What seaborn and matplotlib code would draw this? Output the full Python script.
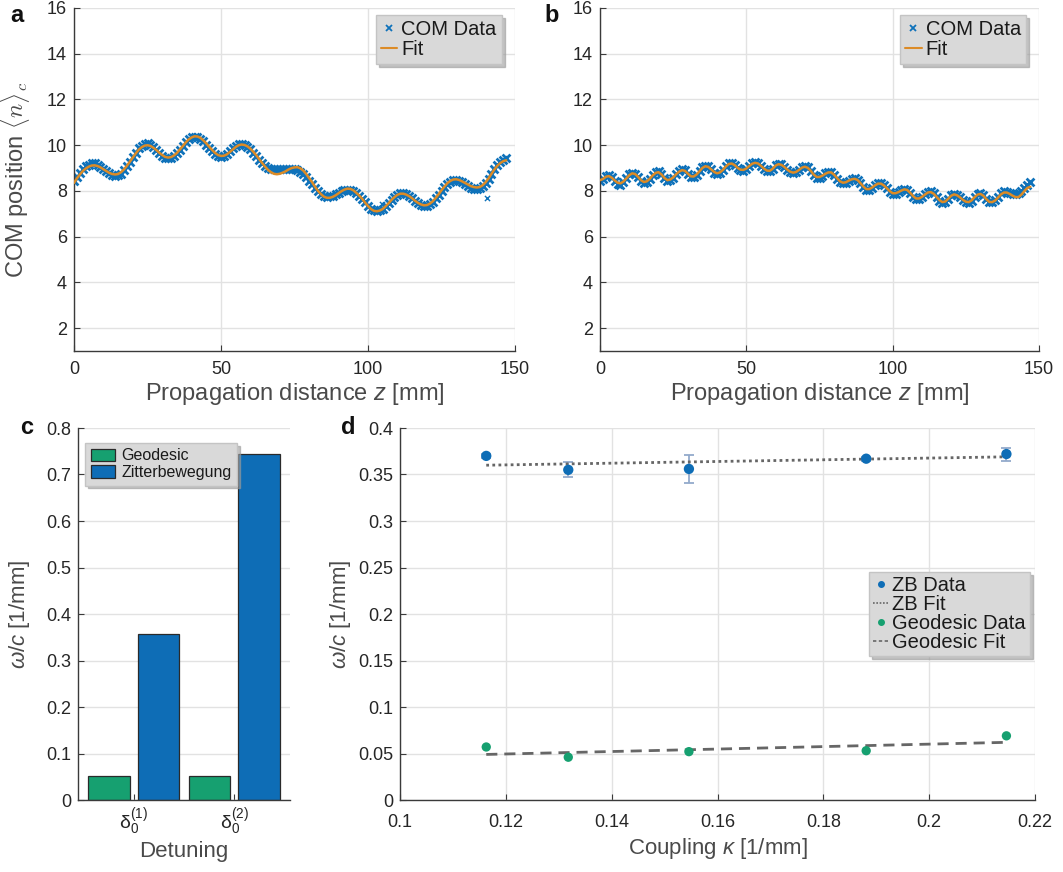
import matplotlib
matplotlib.use("Agg")
import matplotlib.pyplot as plt
from matplotlib.lines import Line2D
import numpy as np
import pandas as pd
import seaborn as sns

# ---------------- data ----------------
z_mm = list(range(148))

com_a_data = [
    8.45, 8.62, 8.80, 8.95, 9.07, 9.15, 9.20, 9.20, 9.15, 9.06,
    8.96, 8.86, 8.77, 8.69, 8.66, 8.68, 8.76, 8.90, 9.08, 9.28,
    9.48, 9.68, 9.86, 9.98, 10.06, 10.08, 10.03, 9.93, 9.80, 9.66,
    9.53, 9.44, 9.42, 9.45, 9.53, 9.65, 9.80, 9.96, 10.12, 10.25,
    10.34, 10.38, 10.36, 10.29, 10.17, 10.03, 9.88, 9.74, 9.61, 9.53,
    9.50, 9.53, 9.61, 9.73, 9.86, 9.98, 10.06, 10.07, 10.03, 9.94,
    9.82, 9.68, 9.52, 9.37, 9.22, 9.10, 9.02, 8.97, 8.95, 8.94,
    8.94, 8.94, 8.95, 8.96, 8.96, 8.94, 8.90, 8.83, 8.73, 8.60,
    8.45, 8.29, 8.13, 7.98, 7.86, 7.78, 7.75, 7.76, 7.79, 7.85,
    7.92, 7.99, 8.04, 8.06, 8.04, 7.98, 7.89, 7.78, 7.65, 7.50,
    7.36, 7.23, 7.15, 7.12, 7.15, 7.22, 7.33, 7.46, 7.60, 7.73,
    7.84, 7.90, 7.91, 7.87, 7.79, 7.68, 7.56, 7.46, 7.38, 7.34,
    7.35, 7.41, 7.52, 7.67, 7.84, 8.01, 8.17, 8.31, 8.41, 8.46,
    8.47, 8.44, 8.38, 8.31, 8.23, 8.15, 8.10, 8.09, 8.12, 8.20,
    8.34, 8.52, 8.73, 8.94, 9.12, 9.26, 9.36, 9.42,
]
com_a_fit = [
    8.35, 8.55, 8.72, 8.87, 8.98, 9.06, 9.11, 9.12, 9.09, 9.03,
    8.95, 8.87, 8.79, 8.74, 8.72, 8.74, 8.82, 8.94, 9.10, 9.28,
    9.46, 9.64, 9.80, 9.91, 9.98, 10.00, 9.97, 9.89, 9.79, 9.67,
    9.57, 9.49, 9.46, 9.48, 9.55, 9.66, 9.81, 9.96, 10.12, 10.25,
    10.34, 10.39, 10.38, 10.32, 10.21, 10.08, 9.93, 9.79, 9.66, 9.57,
    9.53, 9.54, 9.60, 9.70, 9.81, 9.92, 10.00, 10.03, 10.01, 9.95,
    9.85, 9.71, 9.56, 9.39, 9.22, 9.06, 8.92, 8.82, 8.75, 8.73,
    8.75, 8.80, 8.86, 8.94, 9.00, 9.03, 9.04, 8.99, 8.89, 8.74,
    8.56, 8.38, 8.18, 8.00, 7.86, 7.75, 7.70, 7.70, 7.74, 7.81,
    7.90, 7.99, 8.06, 8.10, 8.09, 8.03, 7.92, 7.80, 7.66, 7.49,
    7.34, 7.21, 7.13, 7.11, 7.14, 7.21, 7.33, 7.46, 7.61, 7.73,
    7.83, 7.88, 7.88, 7.84, 7.77, 7.68, 7.57, 7.48, 7.41, 7.37,
    7.38, 7.44, 7.54, 7.69, 7.85, 8.03, 8.19, 8.34, 8.44, 8.50,
    8.51, 8.48, 8.42, 8.35, 8.28, 8.21, 8.17, 8.15, 8.17, 8.25,
    8.38, 8.55, 8.75, 8.94, 9.10, 9.22, 9.30, 9.34,
]
stray_a_z = [104.7, 140.4]
stray_a_n = [7.45, 7.71]

com_b_data = [
    8.45, 8.53, 8.65, 8.68, 8.60, 8.44, 8.31, 8.28, 8.38, 8.56,
    8.72, 8.80, 8.76, 8.62, 8.45, 8.35, 8.39, 8.53, 8.70, 8.82,
    8.85, 8.74, 8.56, 8.44, 8.47, 8.58, 8.74, 8.87, 8.94, 8.90,
    8.76, 8.61, 8.60, 8.71, 8.87, 9.04, 9.11, 9.07, 8.94, 8.80,
    8.74, 8.79, 8.92, 9.09, 9.21, 9.23, 9.14, 9.00, 8.90, 8.89,
    8.97, 9.10, 9.21, 9.26, 9.22, 9.10, 8.96, 8.86, 8.85, 8.96,
    9.12, 9.19, 9.16, 9.05, 8.91, 8.81, 8.77, 8.81, 8.92, 9.04,
    9.09, 9.03, 8.88, 8.70, 8.58, 8.58, 8.66, 8.77, 8.84, 8.83,
    8.71, 8.54, 8.39, 8.33, 8.36, 8.45, 8.54, 8.56, 8.49, 8.33,
    8.16, 8.04, 8.05, 8.15, 8.27, 8.35, 8.35, 8.25, 8.11, 7.96,
    7.86, 7.87, 7.95, 8.04, 8.10, 8.06, 7.92, 7.75, 7.63, 7.64,
    7.73, 7.85, 7.96, 7.98, 7.89, 7.73, 7.57, 7.47, 7.51, 7.65,
    7.81, 7.88, 7.83, 7.72, 7.59, 7.50, 7.48, 7.58, 7.74, 7.87,
    7.90, 7.81, 7.65, 7.51, 7.50, 7.60, 7.75, 7.90, 7.98, 7.97,
    7.92, 7.88, 7.86, 7.90, 8.00, 8.13, 8.28, 8.38,
]
com_b_fit = [
    8.47, 8.52, 8.62, 8.65, 8.58, 8.46, 8.36, 8.33, 8.41, 8.55,
    8.69, 8.77, 8.74, 8.62, 8.47, 8.39, 8.42, 8.53, 8.68, 8.79,
    8.82, 8.72, 8.57, 8.47, 8.50, 8.59, 8.73, 8.84, 8.91, 8.88,
    8.76, 8.64, 8.63, 8.72, 8.86, 9.01, 9.08, 9.05, 8.94, 8.83,
    8.77, 8.81, 8.92, 9.07, 9.18, 9.20, 9.13, 9.01, 8.93, 8.92,
    8.98, 9.09, 9.19, 9.23, 9.20, 9.10, 8.98, 8.89, 8.88, 8.97,
    9.11, 9.17, 9.14, 9.05, 8.93, 8.84, 8.80, 8.83, 8.92, 9.02,
    9.06, 9.01, 8.88, 8.72, 8.61, 8.61, 8.67, 8.75, 8.81, 8.81,
    8.71, 8.56, 8.42, 8.36, 8.38, 8.45, 8.51, 8.53, 8.48, 8.34,
    8.19, 8.08, 8.08, 8.15, 8.25, 8.32, 8.32, 8.24, 8.12, 7.99,
    7.90, 7.90, 7.95, 8.02, 8.07, 8.04, 7.92, 7.77, 7.67, 7.67,
    7.74, 7.84, 7.93, 7.95, 7.88, 7.74, 7.60, 7.51, 7.54, 7.66,
    7.79, 7.85, 7.81, 7.72, 7.61, 7.53, 7.51, 7.59, 7.73, 7.84,
    7.87, 7.79, 7.64, 7.52, 7.51, 7.58, 7.71, 7.85, 7.93, 7.93,
    7.87, 7.79, 7.73, 7.73, 7.84, 7.99, 8.13, 8.18,
]

detuning = [r"$\mathrm{\delta}_0^{(1)}$", r"$\mathrm{\delta}_0^{(2)}$"]
omega_geodesic = [0.051, 0.051]
omega_zb = [0.356, 0.745]

kappa = [0.1163, 0.1318, 0.1546, 0.1881, 0.2146]
zb_omega = [0.370, 0.355, 0.356, 0.367, 0.372]
zb_err = [0.002, 0.008, 0.015, 0.002, 0.007]
geo_omega = [0.057, 0.046, 0.052, 0.053, 0.069]
kappa_fit = [0.1163, 0.2146]
zb_fit = [0.360, 0.369]
geo_fit = [0.049, 0.062]

# ---------------- style ----------------
sns.set_theme(style="whitegrid")
plt.rcParams["font.family"] = ["Liberation Sans", "DejaVu Sans"]
plt.rcParams["mathtext.fontset"] = "custom"
plt.rcParams["mathtext.rm"] = "Liberation Sans"
plt.rcParams["mathtext.it"] = "Liberation Sans:italic"
plt.rcParams["mathtext.bf"] = "Liberation Sans:bold"

BLUE = "#0F72BA"
ORANGE = "#DC8B26"
GREEN = "#16A070"
BAR_BLUE = "#0E6DB6"
ERR = "#93AACB"
TXT = "#262626"
LBL = "#4a4a4a"
W, H = 1063, 872


def box(l, t, r, b):
    return [l / W, 1 - b / H, (r - l) / W, (b - t) / H]


def style_axes(ax, size=13):
    ax.set_facecolor("white")
    for s in ("top", "right"):
        ax.spines[s].set_visible(False)
    for s in ("left", "bottom"):
        ax.spines[s].set_color("#3a3a3a")
        ax.spines[s].set_linewidth(1.0)
    ax.grid(True, color="#e2e2e2", linewidth=1.0)
    ax.set_axisbelow(True)
    ax.tick_params(direction="in", length=4, width=0.8, color="#3a3a3a",
                   labelcolor=TXT, labelsize=size, bottom=True, left=True, pad=5)


def matlab_legend(ax, **kw):
    leg = ax.legend(frameon=True, fancybox=False, shadow={"color": "#9a9a9a", "alpha": 0.6},
                    facecolor="#d9d9d9", edgecolor="#c4c4c4", framealpha=1, **kw)
    for t in leg.get_texts():
        t.set_color("#1a1a1a")
    return leg


fig = plt.figure(figsize=(W / 100, H / 100), dpi=100)
fig.patch.set_facecolor("white")

# ---------------- panels a & b ----------------
ax_a = fig.add_axes(box(74, 8, 515, 351))
ax_b = fig.add_axes(box(600, 8, 1039, 351))

for ax, data, fit in ((ax_a, com_a_data, com_a_fit), (ax_b, com_b_data, com_b_fit)):
    style_axes(ax)
    sns.scatterplot(x=z_mm, y=data, marker="x", s=32, color=BLUE, linewidth=2.0,
                    ax=ax, label="COM Data", zorder=2)
    sns.lineplot(x=z_mm, y=fit, color=ORANGE, linewidth=1.8, ax=ax, label="Fit", zorder=3)
    ax.set_xlim(0, 150)
    ax.set_ylim(1, 16)
    ax.set_xticks([0, 50, 100, 150])
    ax.set_yticks(range(2, 17, 2))
    ax.tick_params(axis="x", pad=7)
    ax.set_xlabel("Propagation distance $z$ [mm]", fontsize=17, color=LBL, labelpad=2)
    handles = [Line2D([], [], marker="x", linestyle="none", color=BLUE, markersize=5, mew=1.3),
               Line2D([], [], color=ORANGE, linewidth=1.5)]
    ax.legend_.remove()
    matlab_legend(ax, handles=handles, labels=["COM Data", "Fit"], loc="upper right",
                  bbox_to_anchor=(0.97, 0.98), borderaxespad=0, fontsize=14.5,
                  handlelength=0.8, handletextpad=0.2, labelspacing=0.05, borderpad=0.25)

ax_a.scatter(stray_a_z, stray_a_n, marker="x", s=14, color=BLUE, linewidth=1.0, zorder=2)
ax_a.set_ylabel(r"COM position $\langle n \rangle_c$", fontsize=17, color=LBL,
                math_fontfamily="cm")
ax_a.yaxis.set_label_coords(-0.095, 0.5)

# ---------------- panel c ----------------
ax_c = fig.add_axes(box(78, 428, 290, 800))
style_axes(ax_c, size=13)
bars = pd.DataFrame({
    "Detuning": detuning * 2,
    "omega": omega_geodesic + omega_zb,
    "kind": ["Geodesic"] * 2 + ["Zitterbewegung"] * 2,
})
sns.barplot(data=bars, x="Detuning", y="omega", hue="kind", order=detuning,
            hue_order=["Geodesic", "Zitterbewegung"], palette=[GREEN, BAR_BLUE],
            width=0.99, gap=0.16, saturation=1, edgecolor="#2a2a2a", linewidth=0.9, ax=ax_c)
ax_c.set_ylim(0, 0.8)
ax_c.set_xlim(-0.55, 1.55)
ax_c.set_yticks(np.arange(0, 0.81, 0.1))
ax_c.set_yticklabels(["0", "0.1", "0.2", "0.3", "0.4", "0.5", "0.6", "0.7", "0.8"])
ax_c.tick_params(axis="x", labelsize=14)
ax_c.set_xlabel("Detuning", fontsize=16, color=LBL, labelpad=2)
ax_c.set_ylabel(r"$\omega/c$ [1/mm]", fontsize=16, color=LBL)
ax_c.yaxis.set_label_coords(-0.215, 0.5)
matlab_legend(ax_c, loc="upper left", bbox_to_anchor=(0.035, 0.96), borderaxespad=0,
              fontsize=11.5, handlelength=1.5, handleheight=0.8, handletextpad=0.4,
              labelspacing=0.1, borderpad=0.35, title=None)

# ---------------- panel d ----------------
ax_d = fig.add_axes(box(400, 428, 1035, 800))
style_axes(ax_d, size=13)
ax_d.tick_params(axis="x", pad=10)
ax_d.errorbar(kappa, zb_omega, yerr=zb_err, fmt="none", ecolor=ERR, elinewidth=1.3,
              capsize=3.5, capthick=1.3, zorder=2)
sns.lineplot(x=kappa_fit, y=zb_fit, color="#666666", linewidth=2.0, linestyle=(0, (1, 1.2)),
             ax=ax_d, label="ZB Fit", zorder=3)
sns.lineplot(x=kappa_fit, y=geo_fit, color="#666666", linewidth=2.0, linestyle=(0, (4, 2.5)),
             ax=ax_d, label="Geodesic Fit", zorder=3)
sns.scatterplot(x=kappa, y=zb_omega, color=BAR_BLUE, s=55, edgecolor="none", ax=ax_d,
                label="ZB Data", zorder=4)
sns.scatterplot(x=kappa, y=geo_omega, color=GREEN, s=45, edgecolor="none", ax=ax_d,
                label="Geodesic Data", zorder=4)
ax_d.set_xlim(0.1, 0.22)
ax_d.set_ylim(0, 0.4)
ax_d.set_xticks(np.arange(0.1, 0.221, 0.02))
ax_d.set_xticklabels(["0.1", "0.12", "0.14", "0.16", "0.18", "0.2", "0.22"])
ax_d.set_yticks(np.arange(0, 0.401, 0.05))
ax_d.set_yticklabels(["0", "0.05", "0.1", "0.15", "0.2", "0.25", "0.3", "0.35", "0.4"])
ax_d.set_xlabel(r"Coupling $\kappa$ [1/mm]", fontsize=16, color=LBL, labelpad=4)
ax_d.set_ylabel(r"$\omega/c$ [1/mm]", fontsize=16, color=LBL)
ax_d.yaxis.set_label_coords(-0.074, 0.5)
ax_d.legend_.remove()
d_handles = [
    Line2D([], [], marker="o", linestyle="none", color=BAR_BLUE, markersize=4),
    Line2D([], [], color="#666666", linewidth=1.2, linestyle=(0, (1, 1))),
    Line2D([], [], marker="o", linestyle="none", color=GREEN, markersize=4),
    Line2D([], [], color="#666666", linewidth=1.2, linestyle=(0, (2, 1.5))),
]
matlab_legend(ax_d, handles=d_handles, labels=["ZB Data", "ZB Fit", "Geodesic Data", "Geodesic Fit"],
              loc="upper right", bbox_to_anchor=(0.992, 0.613), borderaxespad=0, fontsize=14.5,
              handlelength=0.8, handletextpad=0.15, labelspacing=0.0, borderpad=0.2)

# ---------------- panel letters ----------------
for letter, (px, py) in {"a": (10, 15), "b": (544, 15), "c": (20, 427), "d": (341, 427)}.items():
    fig.text(px / W, 1 - py / H, letter, fontsize=17, fontweight="bold", color="#111111",
             ha="left", va="center")

fig.savefig("out.png", dpi=100, facecolor="white")
